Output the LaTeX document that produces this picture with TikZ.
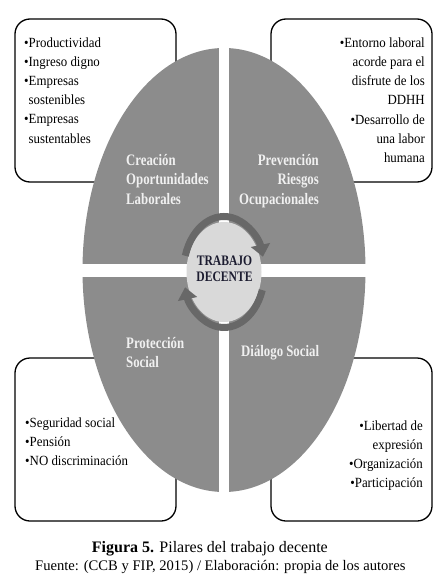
\documentclass[tikz,border=0pt]{standalone}
\usepackage{fontspec}
\setmainfont{Liberation Serif}
\newfontfamily\estrecha[FakeStretch=0.8]{Liberation Serif}
\newfontfamily\cuerpo[FakeStretch=0.92]{Liberation Serif}
\usetikzlibrary{arrows.meta}

\definecolor{grisovalo}{HTML}{8C8C8C}
\definecolor{grisanillo}{HTML}{686868}
\definecolor{grisclaro}{HTML}{D9D9D9}
\definecolor{azuloscuro}{HTML}{1C1C30}

\begin{document}
\begin{tikzpicture}[
  x=1pt, y=-1pt,
  caja/.style={draw=black, fill=white, line width=1.3pt, rounded corners=15pt},
  lista/.style={inner sep=0pt, font=\cuerpo\fontsize{14}{19.2}\selectfont},
  pilar/.style={inner sep=0pt, text=white!94!black,
                font=\estrecha\bfseries\fontsize{16}{19.5}\selectfont},
  anillo/.style={draw=grisanillo, line width=7pt,
                 -{Triangle[length=12pt,width=19pt]}}
]
\useasboundingbox (0,0) rectangle (447,581);

%--------------------------------------------------------------
% Cajas de las cuatro esquinas
%--------------------------------------------------------------
\foreach \x/\y in {15/19, 271/19, 15/358, 271/358}
  \draw[caja] (\x,\y) rectangle ++(161,163);

%--------------------------------------------------------------
% Ovalo en cuatro pilares
%--------------------------------------------------------------
\fill[grisovalo] (224,270) ellipse [x radius=141.5, y radius=222];
\fill[white] (78,264) rectangle (370,277);
\fill[white] (219,44) rectangle (229,496);

%--------------------------------------------------------------
% Centro: trabajo decente y flechas
%--------------------------------------------------------------
\fill[grisclaro] (224,272) ellipse [x radius=37.5, y radius=50];
\draw[anillo] ([shift={(197:40.5 and 55.5)}]224,272)
  arc [start angle=197, end angle=344, x radius=40.5, y radius=55.5];
\draw[anillo] ([shift={(19:40.5 and 55.5)}]224,272)
  arc [start angle=19, end angle=164, x radius=40.5, y radius=55.5];
% (base = linea de base de la ultima linea)
\node[inner sep=0pt, align=center, anchor=base, text=azuloscuro,
      font=\estrecha\bfseries\fontsize{14.5}{16.7}\selectfont]
  (trabajo) at (224.5,281.7) {TRABAJO\\DECENTE};

%--------------------------------------------------------------
% Nombres de los pilares
%--------------------------------------------------------------
\node[pilar, align=left, anchor=base west] (creacion) at (126,204)
  {Creación\\Oportunidades\\Laborales};
\node[pilar, align=right, anchor=base east] (prevencion) at (319,204)
  {Prevención\\Riesgos\\Ocupacionales};
\node[pilar, align=left, anchor=base west] (proteccion) at (126,367.5)
  {Protección\\Social};
\node[pilar, anchor=base west] (dialogo) at (241,356) {Diálogo Social};

%--------------------------------------------------------------
% Contenido de las cajas
%--------------------------------------------------------------
\node[lista, align=left, anchor=base west] (productividad) at (24,143)
  {•Productividad\\•Ingreso digno\\•Empresas\\\hspace*{4.5pt}sostenibles\\
   •Empresas\\\hspace*{4.5pt}sustentables};
\node[lista, align=right, anchor=base east] (entorno) at (425,162.5)
  {•Entorno laboral\\acorde para el\\disfrute de los\\DDHH\\
   •Desarrollo de\\una labor\\humana};
\node[lista, align=left, anchor=base west] (seguridad) at (25,465.4)
  {•Seguridad social\\•Pensión\\•NO discriminación};
\node[lista, align=right, anchor=base east] (libertad) at (423,487.6)
  {•Libertad de\\expresión\\•Organización\\•Participación};

%--------------------------------------------------------------
% Pie de figura
%--------------------------------------------------------------
\node[inner sep=0pt, anchor=base west, font=\fontsize{16}{19}\selectfont]
  (figura) at (91.7,552.3) {\textbf{Figura 5.} Pilares del trabajo decente};
\node[inner sep=0pt, anchor=base west, font=\fontsize{14.6}{17}\selectfont]
  (fuente) at (35,570.7) {Fuente: (CCB y FIP, 2015) / Elaboración: propia de los autores};

\end{tikzpicture}
\end{document}
